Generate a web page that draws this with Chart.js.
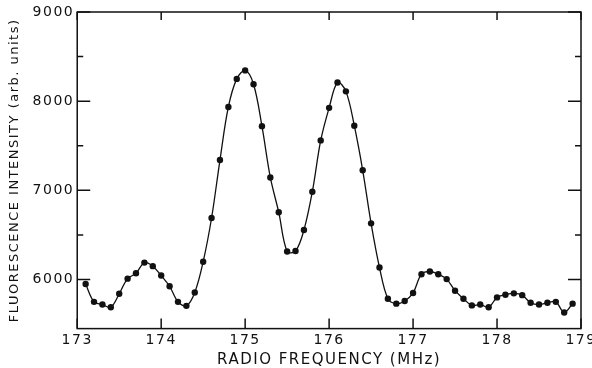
<!DOCTYPE html>
<html>
<head>
<meta charset="utf-8">
<script src="https://cdn.jsdelivr.net/npm/chart.js@4/dist/chart.umd.min.js"></script>
<style>
  html, body { margin: 0; padding: 0; background: #fff; }
  #chart { display: block; }
</style>
</head>
<body>
<canvas id="chart" width="592" height="368"></canvas>
<script>
// ====== Data ======
const frequencies = [
  173.1, 173.2, 173.3, 173.4, 173.5, 173.6, 173.7, 173.8, 173.9, 174.0,
  174.1, 174.2, 174.3, 174.4, 174.5, 174.6, 174.7, 174.8, 174.9, 175.0,
  175.1, 175.2, 175.3, 175.4, 175.5, 175.6, 175.7, 175.8, 175.9, 176.0,
  176.1, 176.2, 176.3, 176.4, 176.5, 176.6, 176.7, 176.8, 176.9, 177.0,
  177.1, 177.2, 177.3, 177.4, 177.5, 177.6, 177.7, 177.8, 177.9, 178.0,
  178.1, 178.2, 178.3, 178.4, 178.5, 178.6, 178.7, 178.8, 178.9
];
const intensity = [
  5950, 5750, 5720, 5690, 5840, 6010, 6070, 6190, 6150, 6045,
  5925, 5750, 5705, 5855, 6200, 6690, 7340, 7935, 8250, 8345,
  8190, 7720, 7145, 6755, 6315, 6320, 6555, 6985, 7560, 7925,
  8210, 8110, 7725, 7225, 6630, 6135, 5785, 5730, 5760, 5850,
  6060, 6090, 6060, 6005, 5875, 5785, 5710, 5720, 5690, 5800,
  5830, 5845, 5825, 5740, 5720, 5740, 5750, 5630, 5730
];
const xTickValues = [173, 174, 175, 176, 177, 178, 179];
const yTickValues = [6000, 6500, 7000, 7500, 8000, 8500, 9000];
const yMajorValues = [6000, 7000, 8000, 9000];

const FONT = '"DejaVu Sans", sans-serif';
const INK = '#111';
const SPACING = '1.5px';

// wide lettering like the original typeset figure
const spacingPlugin = {
  id: 'spacing',
  beforeUpdate(chart) { chart.ctx.letterSpacing = SPACING; },
  beforeDraw(chart) { chart.ctx.letterSpacing = SPACING; }
};

// ====== Frame with inward ticks ======
const framePlugin = {
  id: 'frame',
  afterDatasetsDraw(chart) {
    const { ctx, chartArea: a, scales } = chart;
    ctx.save();
    ctx.strokeStyle = INK;
    ctx.lineWidth = 1.5;
    ctx.strokeRect(a.left, a.top, a.right - a.left, a.bottom - a.top);

    ctx.beginPath();
    xTickValues.forEach(v => {
      const px = scales.x.getPixelForValue(v);
      ctx.moveTo(px, a.bottom);
      ctx.lineTo(px, a.bottom - 10);
      ctx.moveTo(px, a.top);
      ctx.lineTo(px, a.top + 8);
    });
    yTickValues.forEach(v => {
      const py = scales.y.getPixelForValue(v);
      const len = yMajorValues.includes(v) ? 13 : 6;
      ctx.moveTo(a.left, py);
      ctx.lineTo(a.left + len, py);
      ctx.moveTo(a.right, py);
      ctx.lineTo(a.right - len, py);
    });
    ctx.stroke();
    ctx.restore();
  }
};

const ctx = document.getElementById('chart').getContext('2d');
ctx.letterSpacing = SPACING;

new Chart(ctx, {
  type: 'line',
  data: {
    datasets: [{
      data: frequencies.map((f, i) => ({ x: f, y: intensity[i] })),
      borderColor: INK,
      borderWidth: 1.3,
      backgroundColor: INK,
      pointRadius: 3.2,
      pointBorderWidth: 0,
      tension: 0.35,
      fill: false
    }]
  },
  options: {
    responsive: false,
    animation: false,
    layout: { padding: { left: 7, right: 11, top: 12, bottom: 0 } },
    plugins: {
      legend: { display: false },
      tooltip: { enabled: false }
    },
    scales: {
      x: {
        type: 'linear',
        min: 173,
        max: 179,
        afterBuildTicks: s => { s.ticks = xTickValues.map(v => ({ value: v })); },
        afterFit: s => { s.paddingLeft = 0; s.paddingRight = 0; },
        grid: { display: false, drawTicks: false },
        border: { display: false },
        ticks: {
          color: INK,
          padding: 4,
          font: { family: FONT, size: 14, lineHeight: 1.1 },
          callback: v => String(v)
        },
        title: {
          display: true,
          text: 'RADIO FREQUENCY (MHz)',
          color: INK,
          font: { family: FONT, size: 15, lineHeight: 1.0 },
          padding: { top: 1, bottom: 0 }
        }
      },
      y: {
        type: 'linear',
        min: 5450,
        max: 9000,
        afterBuildTicks: s => { s.ticks = yTickValues.map(v => ({ value: v })); },
        afterFit: s => { s.paddingTop = 0; s.paddingBottom = 0; },
        grid: { display: false, drawTicks: false },
        border: { display: false },
        ticks: {
          color: INK,
          padding: 3,
          font: { family: FONT, size: 14 },
          callback: v => (yMajorValues.includes(v) ? String(v) : '')
        },
        title: {
          display: true,
          text: 'FLUORESCENCE INTENSITY (arb. units)',
          color: INK,
          font: { family: FONT, size: 13 },
          padding: { top: 0, bottom: 7 }
        }
      }
    }
  },
  plugins: [spacingPlugin, framePlugin]
});
</script>
</body>
</html>
